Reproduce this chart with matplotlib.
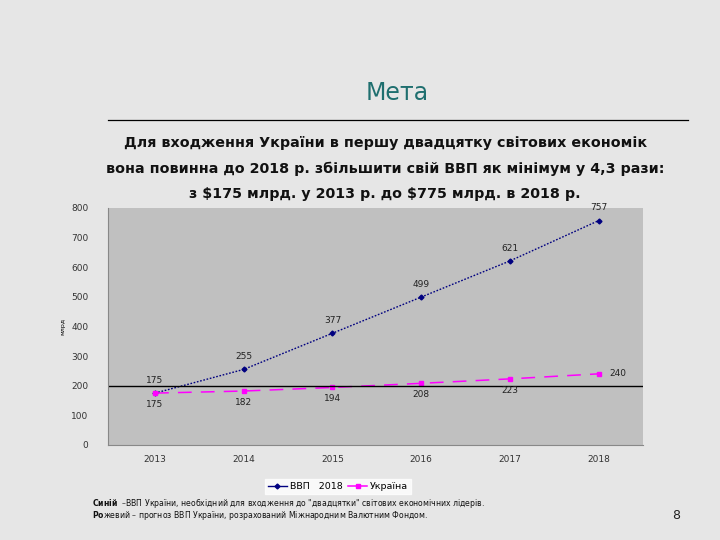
import matplotlib
matplotlib.use("Agg")
import matplotlib.pyplot as plt
from matplotlib.lines import Line2D

years = ["2013", "2014", "2015", "2016", "2017", "2018"]
vvp_target = [175, 255, 377, 499, 621, 757]
ukraine_imf = [175, 182, 194, 208, 223, 240]
y_ticks = [0, 100, 200, 300, 400, 500, 600, 700, 800]

bg = "#e6e6e6"
fig = plt.figure(figsize=(7.2, 5.4), dpi=100, facecolor=bg)

# Title and rule
fig.text(0.551, 0.828, "Мета", ha="center", va="center", fontsize=17,
         color="#1f6f6f", family="DejaVu Sans")
fig.add_artist(plt.Line2D([0.15, 0.955], [0.778, 0.778], color="black", lw=0.9))

lines = [
    "Для входження України в першу двадцятку світових економік",
    "вона повинна до 2018 р. збільшити свій ВВП як мінімум у 4,3 рази:",
    "з \\$175 млрд. у 2013 р. до \\$775 млрд. в 2018 р.",
]
ys = [0.735, 0.688, 0.640]
for t, y in zip(lines, ys):
    fig.text(0.535, y, t, ha="center", va="center", fontsize=10.3,
             fontweight="bold", color="#111111", family="DejaVu Sans")

ax = fig.add_axes([0.15, 0.176, 0.743, 0.439])
ax.set_facecolor("#c0c0c0")
x = list(range(len(years)))
ax.plot(x, vvp_target, linestyle=(0, (1.2, 1.2)), color="#000080", lw=1.0,
        marker="D", markersize=2.5)
ax.plot(x, ukraine_imf, linestyle=(0, (9, 6)), color="#ff00ff", lw=1.1,
        marker="s", markersize=3.2)
ax.axhline(200, color="black", lw=1.0)

for i, v in enumerate(vvp_target):
    ax.annotate(str(v), (i, v), xytext=(0, 6), textcoords="offset points",
                ha="center", va="bottom", fontsize=6.5, color="#222222")
for i, v in enumerate(ukraine_imf):
    if i == len(ukraine_imf) - 1:
        ax.annotate(str(v), (i, v), xytext=(8, 0), textcoords="offset points",
                    ha="left", va="center", fontsize=6.5, color="#222222")
    else:
        ax.annotate(str(v), (i, v), xytext=(0, -5), textcoords="offset points",
                    ha="center", va="top", fontsize=6.5, color="#222222")

ax.set_xlim(-0.53, 5.5)
ax.set_ylim(0, 800)
ax.set_yticks(y_ticks)
ax.set_xticks(x)
ax.set_xticklabels(years)
ax.tick_params(axis="both", labelsize=6.5, colors="#333333", length=0, pad=7)
ax.tick_params(axis="y", pad=14)
for s in ["top", "right"]:
    ax.spines[s].set_visible(False)
ax.spines["left"].set_color("#888888")
ax.spines["bottom"].set_color("#888888")
ax.set_ylabel("млрд", fontsize=4.5, labelpad=4)

handles = [
    Line2D([], [], color="#000080", lw=1.0, marker="D", markersize=2.5),
    Line2D([], [], color="#ff00ff", lw=1.1, marker="s", markersize=3.0),
]
leg = ax.legend(handles, ["ВВП   2018", "Україна"], loc="upper center",
                bbox_to_anchor=(0.43, -0.125), ncol=2,
                fontsize=6.8, frameon=True, fancybox=False, handlelength=2.0,
                handletextpad=0.3, columnspacing=0.6, borderpad=0.3)
leg.get_frame().set_facecolor("white")
leg.get_frame().set_edgecolor("white")

fig.text(0.128, 0.068, "$\\mathbf{Синій}$  –ВВП України, необхідний для входження до \"двадцятки\" світових економічних лідерів.",
         fontsize=5.6, color="#111111", va="center")
fig.text(0.128, 0.046, "$\\mathbf{Ро}$жевий – прогноз ВВП України, розрахований Міжнародним Валютним Фондом.",
         fontsize=5.6, color="#111111", va="center")
fig.text(0.933, 0.046, "8", fontsize=9, color="#222222", va="center")

fig.savefig("out.png", dpi=100, facecolor=bg)
